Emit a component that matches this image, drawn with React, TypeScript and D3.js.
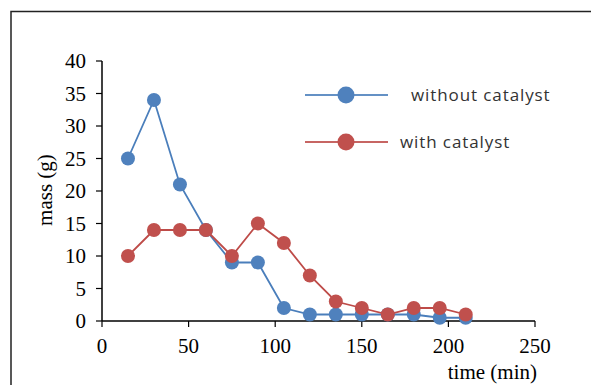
import React from "react";
import * as d3 from "d3";

const times = [15, 30, 45, 60, 75, 90, 105, 120, 135, 150, 165, 180, 195, 210];
const withoutCatalyst = [25, 34, 21, 14, 9, 9, 2, 1, 1, 1, 1, 1, 0.5, 0.5];
const withCatalyst = [10, 14, 14, 14, 10, 15, 12, 7, 3, 2, 1, 2, 2, 1];
const xTicks = [0, 50, 100, 150, 200, 250];
const yTicks = [0, 5, 10, 15, 20, 25, 30, 35, 40];

const series = [
  { name: "without catalyst", values: withoutCatalyst, color: "#4a7ebb", fill: "#4f81bd" },
  { name: "with catalyst", values: withCatalyst, color: "#be4b48", fill: "#c0504d" },
];

export default function App() {
  const width = 591;
  const height = 385;
  const x = d3.scaleLinear().domain([0, 250]).range([102, 535]);
  const y = d3.scaleLinear().domain([0, 40]).range([321, 61]);

  const line = d3
    .line<[number, number]>()
    .x((d) => x(d[0]))
    .y((d) => y(d[1]));

  const serif = "'Liberation Serif', 'Times New Roman', serif";

  return (
    <svg
      width={width}
      height={height}
      style={{ position: "absolute", left: 0, top: 0, background: "#fff" }}
    >
      {/* frame */}
      <path d={`M11,${height} V11.5 H${width}`} fill="none" stroke="#222" strokeWidth={1.5} />

      {/* y axis */}
      <line x1={102} x2={102} y1={y(40)} y2={y(0)} stroke="#000" strokeWidth={1.5} />
      {yTicks.map((t) => (
        <g key={"y" + t}>
          <line x1={96} x2={102} y1={y(t)} y2={y(t)} stroke="#000" strokeWidth={1.2} />
          <text
            x={86}
            y={y(t)}
            dy="0.35em"
            textAnchor="end"
            fontFamily={serif}
            fontSize={21}
            fill="#000"
          >
            {t}
          </text>
        </g>
      ))}

      {/* x axis */}
      <line x1={x(0)} x2={x(250)} y1={321} y2={321} stroke="#000" strokeWidth={1.5} />
      {xTicks.map((t) => (
        <g key={"x" + t}>
          <line x1={x(t)} x2={x(t)} y1={321} y2={327} stroke="#000" strokeWidth={1.2} />
          <text
            x={x(t)}
            y={353}
            textAnchor="middle"
            fontFamily={serif}
            fontSize={21}
            fill="#000"
          >
            {t}
          </text>
        </g>
      ))}

      <text
        transform="translate(52,190) rotate(-90)"
        textAnchor="middle"
        fontFamily={serif}
        fontSize={21}
        fill="#000"
      >
        mass (g)
      </text>
      <text
        x={537}
        y={379}
        textAnchor="end"
        fontFamily={serif}
        fontSize={21}
        fill="#000"
      >
        time (min)
      </text>

      {/* series */}
      {series.map((s) => {
        const pts = times.map((t, i) => [t, s.values[i]] as [number, number]);
        return (
          <g key={s.name}>
            <path d={line(pts) || ""} fill="none" stroke={s.color} strokeWidth={1.8} />
            {pts.map((p, i) => (
              <circle key={i} cx={x(p[0])} cy={y(p[1])} r={7} fill={s.fill} />
            ))}
          </g>
        );
      })}

      {/* legend */}
      {series.map((s, i) => {
        const ly = 95 + i * 47;
        return (
          <g key={"lg" + s.name}>
            <line x1={305} x2={388} y1={ly} y2={ly} stroke={s.color} strokeWidth={2} opacity={0.85} />
            <circle cx={346} cy={ly} r={8.5} fill={s.fill} />
            <text
              x={i === 0 ? 411 : 400}
              y={ly}
              dy="0.35em"
              fontFamily="'Open Sans', sans-serif"
              fontSize={17}
              letterSpacing={0.9}
              fill="#333"
            >
              {s.name}
            </text>
          </g>
        );
      })}
    </svg>
  );
}
